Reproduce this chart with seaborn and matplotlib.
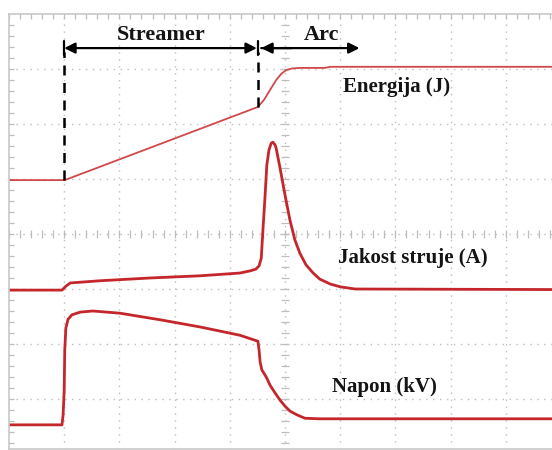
"""Oscilogram: energija, jakost struje i napon tijekom streamer i arc faze."""

import matplotlib.pyplot as plt
import numpy as np
import pandas as pd
import seaborn as sns


# Vrijeme u podjeljcima osciloskopa (0 = lijevi rub ekrana).
energy_t = [0.0, 1.01, 4.51, 4.62, 4.73, 4.84, 4.93, 5.02, 5.13, 5.27, 5.72, 5.82, 9.84]
energy_v = [4.98, 4.98, 6.31, 6.44, 6.62, 6.80, 6.91, 6.98, 7.01, 7.02, 7.02, 7.04, 7.04]

current_t = [0.0, 0.96, 1.03, 1.11, 1.65, 2.55, 3.46, 4.18, 4.37, 4.47, 4.53, 4.57,
             4.60, 4.64, 4.67, 4.71, 4.75, 4.78, 4.82, 4.84, 4.91, 5.00, 5.09, 5.18,
             5.27, 5.38, 5.51, 5.63, 5.82, 6.00, 6.27, 9.84]
current_v = [2.98, 2.98, 3.05, 3.11, 3.15, 3.20, 3.24, 3.29, 3.33, 3.36, 3.42, 3.56,
             4.07, 4.71, 5.25, 5.53, 5.65, 5.67, 5.62, 5.56, 5.20, 4.71, 4.25, 3.89,
             3.65, 3.44, 3.29, 3.18, 3.09, 3.04, 3.00, 2.99]

voltage_t = [0.0, 0.96, 0.98, 1.00, 1.01, 1.03, 1.07, 1.14, 1.29, 1.52, 2.01, 2.74,
             3.46, 4.18, 4.51, 4.53, 4.55, 4.58, 4.66, 4.73, 4.82, 4.91, 5.00, 5.09,
             5.22, 5.36, 5.63, 9.84]
voltage_v = [0.53, 0.53, 0.71, 1.16, 1.89, 2.29, 2.45, 2.53, 2.58, 2.60, 2.56, 2.44,
             2.31, 2.16, 2.05, 1.89, 1.67, 1.53, 1.40, 1.25, 1.11, 0.98, 0.87, 0.78,
             0.71, 0.65, 0.64, 0.64]

phase_edges = [1.0, 4.51, 6.35]        # početak streamera, početak luka, kraj strelice
phase_names = ["Streamer", "Arc"]
trace_labels = ["Energija (J)", "Jakost struje (A)", "Napon (kV)"]
label_pos = [(6.05, 6.67), (5.96, 3.56), (5.85, 1.22)]

TRACE_RED = "#c4262b"
GRID = "#bdbdbd"
INK = "#141414"


def main():
    sns.set_style("white")
    plt.rcParams["font.family"] = ["Liberation Serif", "DejaVu Serif"]

    fig = plt.figure(figsize=(5.52, 4.5), dpi=100)
    ax = fig.add_axes([9 / 552, 1 / 450, 543 / 552, 435 / 450])
    ax.set_xlim(0, 543 / 55.2)
    ax.set_ylim(8 - 435 / 55, 8)

    # mreža osciloskopa
    for gx in range(1, 10):
        ax.axvline(gx, color=GRID, lw=1.0, ls=(0, (1, 4)), zorder=0)
    for gy in range(1, 8):
        ax.axhline(gy, color=GRID, lw=1.0, ls=(0, (1, 4)), zorder=0)
    minor_x = np.arange(0, 10, 0.2)
    minor_y = np.arange(0, 8, 0.2)
    ax.plot(minor_x, np.full_like(minor_x, 4.0), ls="none", marker="|", ms=6,
            mew=0.9, color=GRID, zorder=0)
    ax.plot(np.full_like(minor_y, 5.0), minor_y, ls="none", marker="_", ms=6,
            mew=0.9, color=GRID, zorder=0)
    ax.plot(minor_x, np.full_like(minor_x, 7.97), ls="none", marker="|", ms=5,
            mew=0.9, color=GRID, zorder=0)
    ax.plot(np.full_like(minor_y, 0.03), minor_y, ls="none", marker="_", ms=5,
            mew=0.9, color=GRID, zorder=0)

    for side in ["top", "left", "bottom"]:
        ax.spines[side].set_color("#c8c8c8")
        ax.spines[side].set_linewidth(1.2)
    ax.spines["right"].set_visible(False)
    ax.set_xticks([])
    ax.set_yticks([])

    traces = pd.concat([
        pd.DataFrame({"t": energy_t, "v": energy_v, "signal": trace_labels[0]}),
        pd.DataFrame({"t": current_t, "v": current_v, "signal": trace_labels[1]}),
        pd.DataFrame({"t": voltage_t, "v": voltage_v, "signal": trace_labels[2]}),
    ])
    for name, width, colour in zip(trace_labels, [1.3, 2.0, 2.0],
                                   ["#d0484b", TRACE_RED, TRACE_RED]):
        sns.lineplot(data=traces[traces["signal"] == name], x="t", y="v",
                     color=colour, lw=width, sort=False, ax=ax, legend=False)
    ax.set_xlabel("")
    ax.set_ylabel("")

    # granice faza
    arrow_y = 7.38
    ax.plot([phase_edges[0], phase_edges[0]], [4.98, 7.3], color="black",
            lw=1.8, ls=(0, (4, 3)))
    ax.plot([phase_edges[1], phase_edges[1]], [6.31, 7.3], color="black",
            lw=1.8, ls=(0, (4, 3)))
    ax.annotate("", xy=(phase_edges[0], arrow_y), xytext=(phase_edges[1] - 0.02, arrow_y),
                arrowprops=dict(arrowstyle="<|-|>", color="black", lw=1.6,
                                mutation_scale=16, shrinkA=0, shrinkB=0))
    ax.annotate("", xy=(phase_edges[2], arrow_y), xytext=(phase_edges[1] + 0.06, arrow_y),
                arrowprops=dict(arrowstyle="-|>", color="black", lw=1.6,
                                mutation_scale=16, shrinkA=0, shrinkB=0))
    ax.annotate("", xy=(phase_edges[1] + 0.06, arrow_y), xytext=(phase_edges[1] + 0.6, arrow_y),
                arrowprops=dict(arrowstyle="-|>", color="black", lw=1.6,
                                mutation_scale=16, shrinkA=0, shrinkB=0))
    ax.plot([phase_edges[0]] * 2, [arrow_y - 0.12, arrow_y + 0.12], color="black", lw=1.6)
    ax.plot([phase_edges[1]] * 2, [arrow_y - 0.12, arrow_y + 0.12], color="black", lw=1.6)

    ax.text((phase_edges[0] + phase_edges[1]) / 2, 7.62, phase_names[0],
            ha="center", va="center", fontsize=16, fontweight="bold", color=INK)
    ax.text(5.67, 7.62, phase_names[1], ha="center", va="center",
            fontsize=16, fontweight="bold", color=INK)

    for text, (lx, ly) in zip(trace_labels, label_pos):
        ax.text(lx, ly, text, ha="left", va="center", fontsize=15,
                fontweight="bold", color=INK)

    fig.savefig("out.png", dpi=100)
    plt.close(fig)


if __name__ == "__main__":
    main()
